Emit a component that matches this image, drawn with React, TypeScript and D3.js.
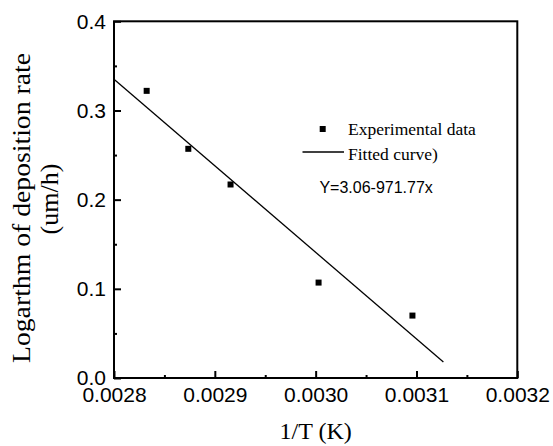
import React, { useEffect, useRef } from 'react';
import * as d3 from 'd3';

// experimental points (1/T, log rate)
const invT = [0.0028324, 0.0028737, 0.0029156, 0.0030029, 0.003096];
const logRate = [0.322, 0.257, 0.217, 0.107, 0.070];

// fitted line endpoints: Y = 3.06 - 971.77x
const fitX = [0.0028, 0.0031267];
const fitY = [0.335, 0.018];

const xTicks = [0.0028, 0.0029, 0.003, 0.0031, 0.0032];
const xTickLabels = ['0.0028', '0.0029', '0.0030', '0.0031', '0.0032'];
const yTicks = [0, 0.1, 0.2, 0.3, 0.4];
const yTickLabels = ['0.0', '0.1', '0.2', '0.3', '0.4'];

const legendLabels = ['Experimental data', 'Fitted curve)'];
const equationText = 'Y=3.06-971.77x';

const margin = { top: 21.3, right: 35.7, bottom: 68, left: 114 };
const width = 553 - margin.left - margin.right;
const height = 446 - margin.top - margin.bottom;

const sans = 'Liberation Sans, Arial, sans-serif';
const serif = 'Liberation Serif, Times New Roman, serif';

function App() {
    const chartElement = useRef(null);

    useEffect(() => {
        const svg = d3.select(chartElement.current).html('');
        const g = svg.append('g')
            .attr('transform', 'translate(' + margin.left + ',' + margin.top + ')');

        const xScale = d3.scaleLinear().domain([0.0028, 0.0032]).range([0, width]);
        const yScale = d3.scaleLinear().domain([0, 0.4]).range([height, 0]);

        // inward ticks on bottom and left
        const xAxis = d3.axisBottom(xScale)
            .tickValues(xTicks)
            .tickSize(-7)
            .tickFormat((d, i) => xTickLabels[i]);
        const yAxis = d3.axisLeft(yScale)
            .tickValues(yTicks)
            .tickSize(-7)
            .tickFormat((d, i) => yTickLabels[i]);

        const xMinor = d3.range(0, 4).map(i => xTicks[i] + 0.00005);
        const yMinor = d3.range(0, 4).map(i => yTicks[i] + 0.05);

        g.append('g')
            .attr('transform', 'translate(0,' + height + ')')
            .call(d3.axisBottom(xScale).tickValues(xMinor).tickSize(-3).tickFormat(() => ''))
            .call(s => s.select('.domain').remove())
            .selectAll('line').attr('stroke-width', 2);
        g.append('g')
            .call(d3.axisLeft(yScale).tickValues(yMinor).tickSize(-3).tickFormat(() => ''))
            .call(s => s.select('.domain').remove())
            .selectAll('line').attr('stroke-width', 2);

        const xg = g.append('g')
            .attr('transform', 'translate(0,' + height + ')')
            .call(xAxis);
        xg.select('.domain').remove();
        xg.selectAll('line').attr('stroke-width', 2);
        xg.selectAll('text')
            .attr('y', 9)
            .attr('dy', '0.71em')
            .style('font-family', sans)
            .style('font-size', '21px')
            .attr('fill', '#000');

        const yg = g.append('g').call(yAxis);
        yg.select('.domain').remove();
        yg.selectAll('line').attr('stroke-width', 2);
        yg.selectAll('text')
            .attr('x', -8)
            .style('font-family', sans)
            .style('font-size', '21px')
            .attr('fill', '#000');

        // frame
        g.append('rect')
            .attr('width', width)
            .attr('height', height)
            .attr('fill', 'none')
            .attr('stroke', '#000')
            .attr('stroke-width', 2);

        // fitted line
        const line = d3.line()
            .x(d => xScale(d[0]))
            .y(d => yScale(d[1]));
        g.append('path')
            .datum(fitX.map((x, i) => [x, fitY[i]]))
            .attr('d', line)
            .attr('fill', 'none')
            .attr('stroke', '#000')
            .attr('stroke-width', 1.3);

        // data points
        g.selectAll('.dot')
            .data(invT.map((x, i) => [x, logRate[i]]))
            .enter().append('rect')
            .attr('class', 'dot')
            .attr('x', d => xScale(d[0]) - 3)
            .attr('y', d => yScale(d[1]) - 3)
            .attr('width', 6)
            .attr('height', 6)
            .attr('fill', '#000');

        // legend
        const lg = svg.append('g');
        lg.append('rect')
            .attr('x', 319.7).attr('y', 126).attr('width', 6).attr('height', 6)
            .attr('fill', '#000');
        lg.append('line')
            .attr('x1', 302.5).attr('x2', 344).attr('y1', 152).attr('y2', 152)
            .attr('stroke', '#000').attr('stroke-width', 1.3);
        lg.selectAll('.lt')
            .data(legendLabels)
            .enter().append('text')
            .attr('class', 'lt')
            .attr('x', 348)
            .attr('y', (d, i) => 135 + i * 25)
            .style('font-family', serif)
            .style('font-size', '17.5px')
            .text(d => d);
        lg.append('text')
            .attr('x', 319.4)
            .attr('y', 193)
            .style('font-family', sans)
            .style('font-size', '16px')
            .text(equationText);

        // axis titles
        svg.append('text')
            .attr('transform', 'translate(' + (margin.left + width / 2) + ',439)')
            .attr('text-anchor', 'middle')
            .style('font-family', serif)
            .style('font-size', '24px')
            .text('1/T (K)');
        svg.append('text')
            .attr('transform', 'translate(30,208) rotate(-90)')
            .attr('text-anchor', 'middle')
            .attr('textLength', 310)
            .attr('lengthAdjust', 'spacingAndGlyphs')
            .style('font-family', serif)
            .style('font-size', '26px')
            .text('Logarthm of deposition rate');
        svg.append('text')
            .attr('transform', 'translate(58,199) rotate(-90)')
            .attr('text-anchor', 'middle')
            .style('font-family', serif)
            .style('font-size', '26px')
            .text('(um/h)');
    }, []);

    return (
        <svg ref={chartElement} width={553} height={446}
            style={{ position: 'absolute', left: 0, top: 0, background: '#fff' }}></svg>
    );
}

export default App;
